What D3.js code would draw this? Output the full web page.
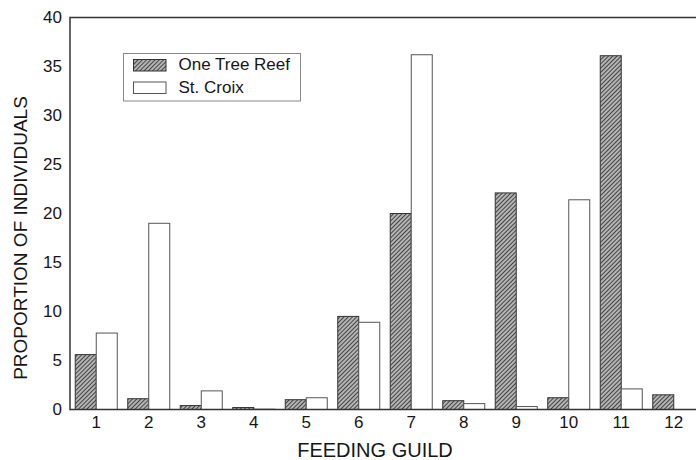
<!DOCTYPE html>
<html>
<head>
<meta charset="utf-8">
<script src="https://cdn.jsdelivr.net/npm/d3@7"></script>
<style>
  body { margin: 0; background: #fff; }
  svg { display: block; font-family: "Liberation Sans", Arial, sans-serif; }
</style>
</head>
<body>
<div class="container"></div>
<script>
// feeding guilds 1..12
const guilds = ["1", "2", "3", "4", "5", "6", "7", "8", "9", "10", "11", "12"];
const seriesNames = ["One Tree Reef", "St. Croix"];
const oneTreeReef = [5.6, 1.1, 0.4, 0.2, 1.0, 9.5, 20.0, 0.9, 22.1, 1.2, 36.1, 1.5];
const stCroix = [7.8, 19.0, 1.9, 0.03, 1.2, 8.9, 36.2, 0.6, 0.3, 21.4, 2.1, 0];
const yTicks = [0, 5, 10, 15, 20, 25, 30, 35, 40];

const width = 696;
const height = 460;
const plotLeft = 70, plotTop = 17.5, plotBottom = 409.5;

const rows = guilds.map((g, i) => ({ guild: g, values: [oneTreeReef[i], stCroix[i]] }));

const svg = d3.select(".container")
  .append("svg")
  .attr("width", width)
  .attr("height", height);

// hatch for One Tree Reef
const defs = svg.append("defs");
const pat = defs.append("pattern")
  .attr("id", "hatch")
  .attr("patternUnits", "userSpaceOnUse")
  .attr("width", 3)
  .attr("height", 3)
  .attr("patternTransform", "rotate(45)");
pat.append("rect").attr("width", 3).attr("height", 3).attr("fill", "#b4b4b4");
pat.append("line")
  .attr("x1", 0).attr("y1", 0).attr("x2", 0).attr("y2", 3)
  .attr("stroke", "#1e1e1e")
  .attr("stroke-width", 1.5);

const x = d3.scaleBand()
  .domain(guilds)
  .range([plotLeft, 700])
  .paddingInner(0.2)
  .paddingOuter(0.1);

const xs = d3.scaleBand()
  .domain(seriesNames)
  .range([0, x.bandwidth()]);

const y = d3.scaleLinear()
  .domain([0, 40])
  .range([plotBottom, plotTop]);

const fills = ["url(#hatch)", "#fff"];
const strokes = ["#333", "#555"];

// bars
const groups = svg.append("g")
  .selectAll("g")
  .data(rows)
  .join("g")
  .attr("transform", d => `translate(${x(d.guild)},0)`);

groups.selectAll("rect")
  .data(d => d.values.map((v, k) => ({ name: seriesNames[k], k: k, v: v })))
  .join("rect")
  .attr("x", d => xs(d.name))
  .attr("y", d => y(d.v))
  .attr("width", xs.bandwidth())
  .attr("height", d => plotBottom - y(d.v))
  .attr("fill", d => fills[d.k])
  .attr("stroke", d => strokes[d.k])
  .attr("stroke-width", 1);

// axes
const yAxis = svg.append("g")
  .attr("transform", `translate(${plotLeft},0)`)
  .call(d3.axisLeft(y).tickValues(yTicks).tickSize(0).tickPadding(8));

const xAxis = svg.append("g")
  .attr("transform", `translate(0,${plotBottom})`)
  .call(d3.axisBottom(x).tickSize(0).tickPadding(6.5));

[yAxis, xAxis].forEach(a => {
  a.select(".domain").remove();
  a.attr("font-size", 17).attr("font-family", "Liberation Sans, Arial, sans-serif");
  a.selectAll("text").attr("fill", "#161616");
});

// frame: left, top, bottom
const frame = svg.append("g")
  .attr("stroke", "#333")
  .attr("stroke-width", 1.5)
  .attr("fill", "none");
frame.append("path")
  .attr("d", `M${width},${plotTop}H${plotLeft}V${plotBottom}H${width}`);

// axis titles
svg.append("text")
  .attr("x", 375)
  .attr("y", 457)
  .attr("text-anchor", "middle")
  .attr("font-size", 20)
  .attr("fill", "#161616")
  .text("FEEDING GUILD");

svg.append("text")
  .attr("transform", "translate(27,238) rotate(-90)")
  .attr("text-anchor", "middle")
  .attr("font-size", 19)
  .attr("fill", "#161616")
  .text("PROPORTION OF INDIVIDUALS");

// legend
const legend = svg.append("g");
legend.append("rect")
  .attr("x", 123.5)
  .attr("y", 53.5)
  .attr("width", 177)
  .attr("height", 47.5)
  .attr("fill", "#fff")
  .attr("stroke", "#888")
  .attr("stroke-width", 1);

const items = legend.selectAll("g")
  .data(seriesNames)
  .join("g")
  .attr("transform", (d, i) => `translate(133.5,${59.5 + i * 22.5})`);

items.append("rect")
  .attr("width", 32.5)
  .attr("height", 11.5)
  .attr("fill", (d, i) => fills[i])
  .attr("stroke", (d, i) => strokes[i])
  .attr("stroke-width", 1);

items.append("text")
  .attr("x", 45)
  .attr("y", 10.5)
  .attr("font-size", 17)
  .attr("fill", "#161616")
  .text(d => d);
</script>
</body>
</html>
